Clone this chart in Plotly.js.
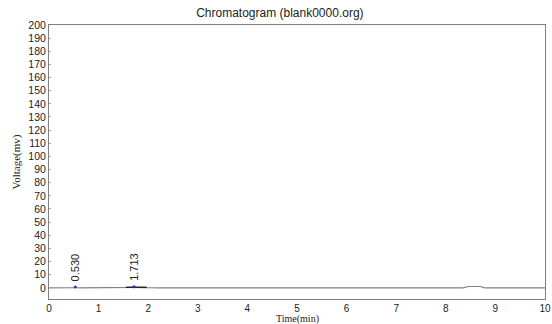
<!DOCTYPE html>
<html><head><meta charset="utf-8">
<script src="https://cdn.plot.ly/plotly-3.0.1.min.js"></script>
<style>html,body{margin:0;padding:0;background:#fff}#c{width:552px;height:324px}</style>
</head><body><div id="c"></div>
<script>
// chromatogram signal (time in min, voltage in mV)
var timeA = [0, 0.12, 0.45, 0.50, 0.53, 0.56, 0.62, 1.30, 1.55, 1.65, 1.713, 1.78, 1.97, 2.20];
var voltA = [0, 0, 0, 0.2, 0.6, 0.2, 0, 0, 0.1, 0.4, 0.8, 0.4, 0.1, 0];
var timeB = [2.20, 8.35, 8.45, 8.55, 8.70, 8.78, 10];
var voltB = [0, 0, 1.0, 1.1, 1.0, 0, 0];
// integration baseline of peak 2
var baseT = [1.55, 1.97];
var baseV = [0.4, 0.4];
// peak labels
var peakT = [0.530, 1.713];
var peakV = [0.6, 0.8];
var peakLabels = ["0.530", "1.713"];

var yTicks = [];
for (var v = 0; v <= 200; v += 10) yTicks.push(v);
var xTicks = [0,1,2,3,4,5,6,7,8,9,10];

var traces = [
  {x: timeA, y: voltA, mode: 'lines', line: {color: '#8f7f7a', width: 1.2}, hoverinfo: 'skip'},
  {x: timeB, y: voltB, mode: 'lines', line: {color: '#808080', width: 1.2}, hoverinfo: 'skip'},
  {x: baseT, y: baseV, mode: 'lines', line: {color: '#222', width: 1.5}, hoverinfo: 'skip'},
  {x: peakT, y: peakV, mode: 'markers', marker: {color: '#2b2bd0', size: 3}, hoverinfo: 'skip'}
];

var annotations = peakT.map(function (t, i) {
  return {x: t, y: peakV[i] + 3, xref: 'x', yref: 'y', text: peakLabels[i], showarrow: false,
    textangle: -90, yanchor: 'bottom', xanchor: 'center',
    font: {family: 'Liberation Sans, Arial, sans-serif', size: 11, color: '#222'}};
});
annotations.push({x: 0.5, y: -19.5 / 274, xref: 'paper', yref: 'paper', text: 'Time(min)', showarrow: false,
  xanchor: 'center', yanchor: 'middle', borderpad: 0,
  font: {family: 'Liberation Serif, Times New Roman, serif', size: 10, color: '#222'}});

var layout = {
  width: 552, height: 324,
  margin: {l: 49, r: 7, t: 25, b: 25},
  paper_bgcolor: '#fff', plot_bgcolor: '#fff',
  showlegend: false,
  title: {text: 'Chromatogram (blank0000.org)', x: 0.507, xanchor: 'center', y: 0.972, yanchor: 'top',
    font: {family: 'Liberation Sans, Arial, sans-serif', size: 12, color: '#222'}},
  xaxis: {range: [0, 10], tickvals: xTicks, ticktext: xTicks.map(String), showgrid: false, zeroline: false,
    showline: true, linecolor: '#7f7f7f', linewidth: 1, mirror: true,
    ticks: '', ticklabelstandoff: 0,
    tickfont: {family: 'Liberation Sans, Arial, sans-serif', size: 10, color: '#222'}},
  yaxis: {range: [-8.5, 200], tickvals: yTicks, ticktext: yTicks.map(String), showgrid: false, zeroline: false,
    showline: true, linecolor: '#7f7f7f', linewidth: 1, mirror: true,
    ticks: 'inside', ticklen: 2, tickcolor: '#aaa', ticklabelstandoff: 0,
    tickfont: {family: 'Liberation Sans, Arial, sans-serif', size: 10.5, color: '#222'},
    title: {text: 'Voltage(mv)', standoff: 5, font: {family: 'Liberation Serif, Times New Roman, serif', size: 11, color: '#222'}}},
  annotations: annotations
};

Plotly.newPlot('c', traces, layout, {displayModeBar: false, staticPlot: true});
</script></body></html>
